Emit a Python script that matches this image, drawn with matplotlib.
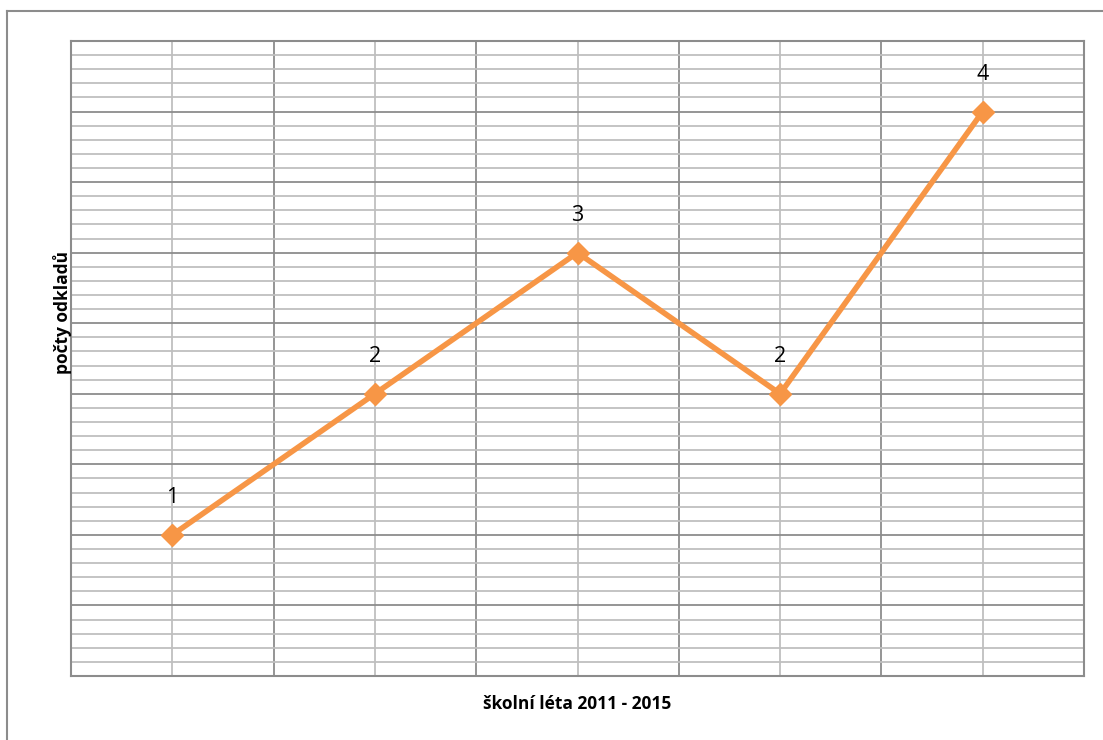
import matplotlib.pyplot as plt
import numpy as np
from matplotlib.lines import Line2D

# data
years = ["2011", "2012", "2013", "2014", "2015"]
odklady = [1, 2, 3, 2, 4]

plt.rcParams['font.family'] = ['Open Sans', 'DejaVu Sans']

fig = plt.figure(figsize=(11.03, 7.4), dpi=100)
ax = fig.add_axes([71/1103, 1 - 676/740, (1084 - 71)/1103, (676 - 41)/740])

x = np.arange(len(years)) + 0.5
ax.set_xlim(0, len(years))
ax.set_ylim(0, 4.5)

# grid: dark major lines, light minor lines
ax.set_xticks(np.arange(len(years) + 1))
ax.set_xticks(x, minor=True)
ax.set_yticks(np.arange(0, 4.51, 0.5))
ax.set_yticks(np.arange(0, 4.51, 0.1), minor=True)
ax.grid(which="major", color="#8c8c8c", linewidth=1.3)
ax.grid(which="minor", color="#bfbfbf", linewidth=1.3)
ax.set_axisbelow(True)
ax.tick_params(which="both", length=0, labelbottom=False, labelleft=False)
for s in ax.spines.values():
    s.set_color("#8c8c8c")
    s.set_linewidth(1.5)

ax.plot(x, odklady, color="#F79646", linewidth=4, marker="D", markersize=11,
        zorder=3, clip_on=False)

for xi, v in zip(x, odklady):
    ax.annotate(str(v), (xi, v), xytext=(0, 27), textcoords="offset points",
                ha="center", va="center", fontsize=15.5, color="black")

fig.text(577/1103, 1 - 704/740, "školní léta 2011 - 2015", ha="center", va="center",
         fontsize=12.5, fontweight="bold")
fig.text(62/1103, 1 - 312/740, "počty odkladů", ha="center", va="center",
         rotation=90, fontsize=12.5, fontweight="bold")

# outer chart frame (left and top)
fig.add_artist(Line2D([7/1103, 7/1103], [0, 1 - 11/740], transform=fig.transFigure,
                      color="#8c8c8c", linewidth=1.5))
fig.add_artist(Line2D([7/1103, 1], [1 - 11/740, 1 - 11/740], transform=fig.transFigure,
                      color="#8c8c8c", linewidth=1.5))

fig.savefig("out.png", dpi=100)
